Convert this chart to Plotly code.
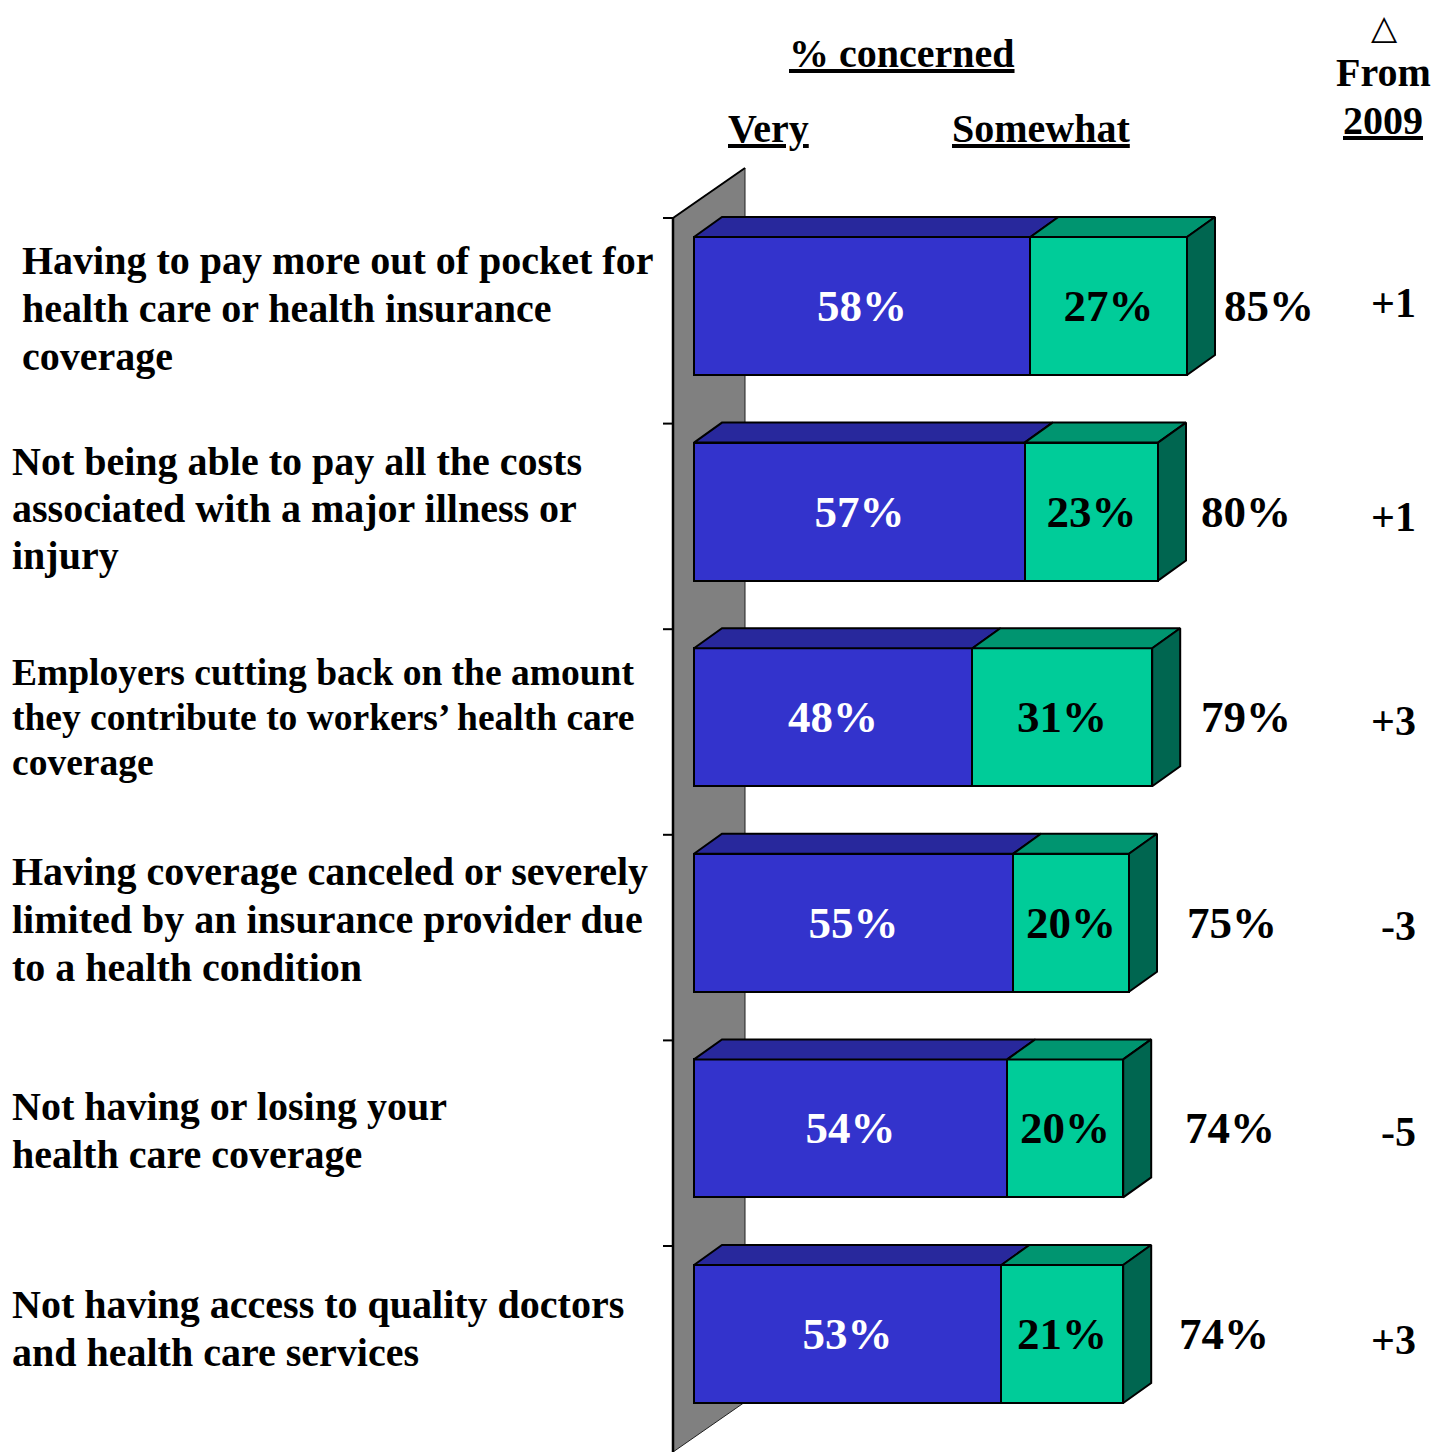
import plotly.graph_objects as go

# ---------------- data ----------------
categories = [
    ["Having to pay more out of pocket for", "health care or health insurance", "coverage"],
    ["Not being able to pay all the costs", "associated with a major illness or", "injury"],
    ["Employers cutting back on the amount", "they contribute to workers\u2019 health care", "coverage"],
    ["Having coverage canceled or severely", "limited by an insurance provider due", "to a health condition"],
    ["Not having or losing your", "health care coverage"],
    ["Not having access to quality doctors", "and health care services"],
]
very = [58, 57, 48, 55, 54, 53]
somewhat = [27, 23, 31, 20, 20, 21]
total = [85, 80, 79, 75, 74, 74]
change = ["+1", "+1", "+3", "-3", "-5", "+3"]

# ---------------- layout constants (pixels in the page) ----------------
PAGE_W, PAGE_H = 1449, 1452
OFF = 8               # default page margin around the plot div
W, H = PAGE_W - OFF, PAGE_H - OFF
X0PX = 694.0          # page pixel of 0%
PXU = 5.8             # pixels per percentage point
Y0PX = 306.0          # page pixel of first bar centre
PXC = 205.6           # pixels per category
BAR_W = 138 / PXC     # bar thickness (category units)
DX = 28 / PXU         # depth offset x
DY = 20 / PXC         # depth offset y (upwards)

def X(px):
    return (px - X0PX) / PXU

def Y(py):
    return (py - Y0PX) / PXC

FONT = "Liberation Serif"
BLUE, BLUE_TOP = "#3333CC", "#28289C"
GREEN, GREEN_TOP, GREEN_SIDE = "#00CC99", "#009570", "#006650"
EDGE = dict(color="black", width=2)

fig = go.Figure()

ys = list(range(len(very)))

# front faces as stacked horizontal bars
fig.add_trace(go.Bar(
    y=ys, x=very, orientation="h", width=BAR_W,
    marker=dict(color=BLUE, line=EDGE),
    text=[f"{v}%" for v in very], textposition="inside",
    insidetextanchor="middle", textangle=0, constraintext="none",
    textfont=dict(family=FONT, size=45, color="white", weight="bold"),
    hoverinfo="skip", showlegend=False))
fig.add_trace(go.Bar(
    y=ys, x=somewhat, orientation="h", width=BAR_W,
    marker=dict(color=GREEN, line=EDGE),
    text=[f"{v}%" for v in somewhat], textposition="inside",
    insidetextanchor="middle", textangle=0, constraintext="none",
    textfont=dict(family=FONT, size=45, color="black", weight="bold"),
    hoverinfo="skip", showlegend=False))

def poly(xs, yy, color):
    fig.add_trace(go.Scatter(
        x=xs + [xs[0]], y=yy + [yy[0]], mode="lines", fill="toself",
        fillcolor=color, line=dict(color="black", width=2),
        hoverinfo="skip", showlegend=False))

for i in ys:
    top = i - BAR_W / 2
    bot = i + BAR_W / 2
    v = very[i]
    t = very[i] + somewhat[i]
    # top face of "very"
    poly([0, DX, v + DX, v], [top, top - DY, top - DY, top], BLUE_TOP)
    # top face of "somewhat"
    poly([v, v + DX, t + DX, t], [top, top - DY, top - DY, top], GREEN_TOP)
    # right side face
    poly([t, t + DX, t + DX, t], [top, top - DY, bot - DY, bot], GREEN_SIDE)

# back wall (below traces)
wl, wr = X(673), X(745)
wall_top_l, wall_top_r = Y(218), Y(168)
wall_bot_l, wall_bot_r = Y(1452), Y(1402)
fig.add_shape(type="path", layer="below",
              path=f"M {wl},{wall_top_l} L {wr},{wall_top_r} L {wr},{wall_bot_r} L {wl},{wall_bot_l} Z",
              fillcolor="#808080", line=dict(color="#202020", width=1))
fig.add_shape(type="line", layer="below", x0=wl, x1=wl, y0=wall_top_l, y1=wall_bot_l,
              line=dict(color="black", width=2.5))
fig.add_shape(type="line", layer="below", x0=wl, x1=wr, y0=wall_top_l, y1=wall_top_r,
              line=dict(color="black", width=2))
# category ticks
for i in ys:
    yt = i + Y(218)
    fig.add_shape(type="line", layer="below", x0=X(663), x1=wl, y0=yt, y1=yt,
                  line=dict(color="black", width=2))

ann = []
# left labels, one line each
label_x = [22, 12, 12, 12, 12, 12]
label_size = [40, 40, 37.5, 40, 40, 40]
label_gap = [48, 47, 45, 48, 48, 48]
label_dy = [2, -3, 0, -3, 2, -6]
for i, lines in enumerate(categories):
    n = len(lines)
    for k, line in enumerate(lines):
        py = Y0PX + i * PXC + label_dy[i] + (k - (n - 1) / 2) * label_gap[i]
        ann.append(dict(x=X(label_x[i] - 2), y=Y(py), text=line, xanchor="left", yanchor="middle",
                        showarrow=False, font=dict(family=FONT, size=label_size[i], color="black", weight="bold")))

# totals and changes
total_x = [1269, 1246, 1246, 1232, 1230, 1224]
change_dy = [-3, 5, 4, 3, 4, 6]
for i in ys:
    ann.append(dict(x=X(total_x[i]), y=i, text=f"{total[i]}%", xanchor="center", yanchor="middle",
                    showarrow=False, font=dict(family=FONT, size=45, color="black", weight="bold")))
    ann.append(dict(x=X(1418), y=i + change_dy[i] / PXC, text=change[i], xanchor="right", yanchor="middle",
                    showarrow=False, font=dict(family=FONT, size=42, color="black", weight="bold")))

# headers
def header(px, py, text, size=40, underline=False, family=FONT, weight="bold"):
    f = dict(family=family, size=size, color="black", weight=weight)
    if underline:
        f["lineposition"] = "under"
    ann.append(dict(x=X(px), y=Y(py), text=text, xanchor="center", yanchor="middle",
                    showarrow=False, font=f))

header(902, 53, "% concerned", underline=True)
header(768, 128, "Very", underline=True)
header(1041, 128, "Somewhat", underline=True)
header(1384, 27, "\u25B3", size=34, family="DejaVu Sans", weight="normal")
header(1383, 72, "From")
header(1383, 120, "2009", underline=True)

fig.update_layout(
    width=W, height=H, margin=dict(l=0, r=0, t=0, b=0),
    paper_bgcolor="white", plot_bgcolor="white",
    barmode="stack", bargap=0, showlegend=False, hovermode=False,
    xaxis=dict(range=[X(OFF), X(PAGE_W)], visible=False, fixedrange=True),
    yaxis=dict(range=[Y(PAGE_H), Y(OFF)], visible=False, fixedrange=True),
    annotations=ann,
)

fig.write_html("out.html")
